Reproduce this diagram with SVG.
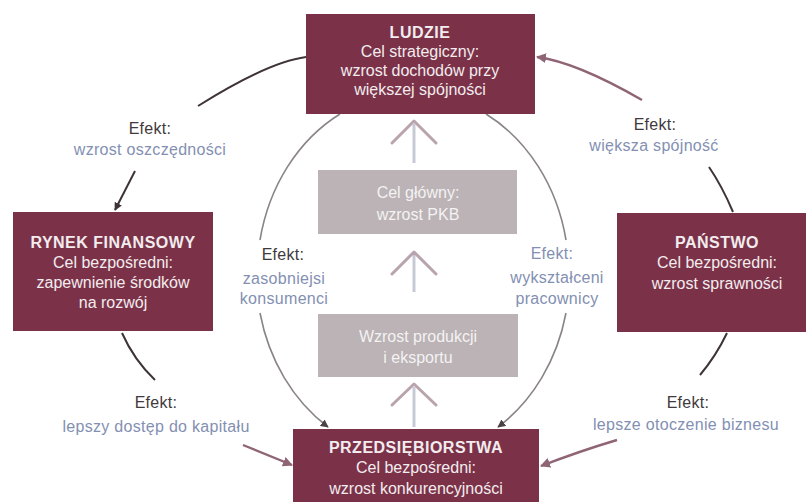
<svg xmlns="http://www.w3.org/2000/svg" width="806" height="502" viewBox="0 0 806 502">
<style>
.box{fill:#7b3249}
.gbox{fill:#bbb3b5}
.t{font-family:"Liberation Sans",Arial,sans-serif;font-size:16px;text-anchor:middle;fill:#f2ecee}
.tb{font-weight:bold;letter-spacing:0.5px}
.gt{fill:#f4f2f3}
.lab{font-family:"Liberation Sans",Arial,sans-serif;font-size:16px;text-anchor:middle;letter-spacing:0.3px}
.dk{fill:#3f3a3d}
.bl{fill:#8390b2}
.arc{fill:none;stroke:#8a8487;stroke-width:1.6}
.cd{fill:none;stroke:#3e3438;stroke-width:2}
.cp{fill:none;stroke:#8f6575;stroke-width:2.4}
.up{fill:none;stroke:#b9a4ad;stroke-width:3;stroke-linecap:round;stroke-linejoin:round}
.shaft{fill:none;stroke:#c6cad6;stroke-width:3}
</style>
<defs>
<marker id="ad" viewBox="0 0 10 10" refX="9" refY="5" markerWidth="8" markerHeight="8" orient="auto" markerUnits="userSpaceOnUse"><path d="M0,0 L10,5 L0,10 z" fill="#3e3438"/></marker>
<marker id="ap" viewBox="0 0 10 10" refX="9" refY="5" markerWidth="10" markerHeight="10" orient="auto" markerUnits="userSpaceOnUse"><path d="M0,0 L10,5 L0,10 z" fill="#8f6575"/></marker>
<marker id="ag" viewBox="0 0 10 10" refX="9" refY="5" markerWidth="8" markerHeight="8" orient="auto" markerUnits="userSpaceOnUse"><path d="M0,0 L10,5 L0,10 z" fill="#4a4245"/></marker>
</defs>
<rect width="806" height="502" fill="#ffffff"/>
<g id="connectors">
<path class="arc" d="M340 114 A156 182 0 0 0 260 240"/>
<path class="arc" d="M260 313 A156 182 0 0 0 328 427" marker-end="url(#ag)"/>
<path class="arc" d="M486 114 A156 182 0 0 1 566 240"/>
<path class="arc" d="M566 313 A156 182 0 0 1 498 427" marker-end="url(#ag)"/>
<path class="cd" d="M306 57 Q268 62 198 106"/>
<path class="cd" d="M135 171 L115 210" marker-end="url(#ad)"/>
<path class="cd" d="M709 167 Q722 186 733 212"/>
<path class="cp" d="M642 100 Q576 62 537 57" marker-end="url(#ap)"/>
<path class="cd" d="M122 333 Q134 360 155 380"/>
<path class="cp" d="M243 445 L292 465" marker-end="url(#ap)"/>
<path class="cd" d="M727 333 Q716 356 700 375"/>
<path class="cp" d="M617 440 Q580 451 541 466" marker-end="url(#ap)"/>
<path class="shaft" d="M414 163 L414 124"/>
<path class="up" d="M392 143 L414 121 L436 143"/>
<path class="shaft" d="M414 292 L414 255"/>
<path class="up" d="M392 274 L414 252 L436 274"/>
<path class="shaft" d="M414 427 L414 387"/>
<path class="up" d="M392 405 L414 384 L436 405"/>
</g>
<g id="ludzie">
<rect class="box" x="306" y="14" width="229" height="100"/>
<text class="t tb" x="420" y="38">LUDZIE</text>
<text class="t" x="420" y="57">Cel strategiczny:</text>
<text class="t" x="420" y="76">wzrost dochodów przy</text>
<text class="t" x="420" y="95">większej spójności</text>
</g>
<g id="rynek">
<rect class="box" x="13" y="212" width="200" height="119"/>
<text class="t tb" x="113" y="248">RYNEK FINANSOWY</text>
<text class="t" x="113" y="268">Cel bezpośredni:</text>
<text class="t" x="113" y="288">zapewnienie środków</text>
<text class="t" x="113" y="308">na rozwój</text>
</g>
<g id="panstwo">
<rect class="box" x="617" y="213" width="200" height="119"/>
<text class="t tb" x="717" y="248">PAŃSTWO</text>
<text class="t" x="717" y="268">Cel bezpośredni:</text>
<text class="t" x="717" y="289">wzrost sprawności</text>
</g>
<g id="przedsiebiorstwa">
<rect class="box" x="293" y="429" width="246" height="80"/>
<text class="t tb" x="416" y="453">PRZEDSIĘBIORSTWA</text>
<text class="t" x="416" y="473">Cel bezpośredni:</text>
<text class="t" x="416" y="494">wzrost konkurencyjności</text>
</g>
<g id="pkb">
<rect class="gbox" x="318" y="170" width="199" height="64"/>
<text class="t gt" x="418" y="198">Cel główny:</text>
<text class="t gt" x="418" y="220">wzrost PKB</text>
</g>
<g id="produkcja">
<rect class="gbox" x="318" y="314" width="200" height="63"/>
<text class="t gt" x="418" y="342">Wzrost produkcji</text>
<text class="t gt" x="418" y="363">i eksportu</text>
</g>
<g id="label-oszczednosci">
<text class="lab dk" x="150" y="134">Efekt:</text>
<text class="lab bl" x="150" y="155">wzrost oszczędności</text>
</g>
<g id="label-spojnosc">
<text class="lab dk" x="655" y="130">Efekt:</text>
<text class="lab bl" x="654" y="151">większa spójność</text>
</g>
<g id="label-konsumenci">
<text class="lab dk" x="283" y="260">Efekt:</text>
<text class="lab bl" x="284" y="284">zasobniejsi</text>
<text class="lab bl" x="284" y="304">konsumenci</text>
</g>
<g id="label-pracownicy">
<text class="lab bl" x="552" y="259">Efekt:</text>
<text class="lab bl" x="557" y="283">wykształceni</text>
<text class="lab bl" x="557" y="304">pracownicy</text>
</g>
<g id="label-kapital">
<text class="lab dk" x="156" y="408">Efekt:</text>
<text class="lab bl" x="156" y="432">lepszy dostęp do kapitału</text>
</g>
<g id="label-otoczenie">
<text class="lab dk" x="688" y="408">Efekt:</text>
<text class="lab bl" x="686" y="430">lepsze otoczenie biznesu</text>
</g>
</svg>
